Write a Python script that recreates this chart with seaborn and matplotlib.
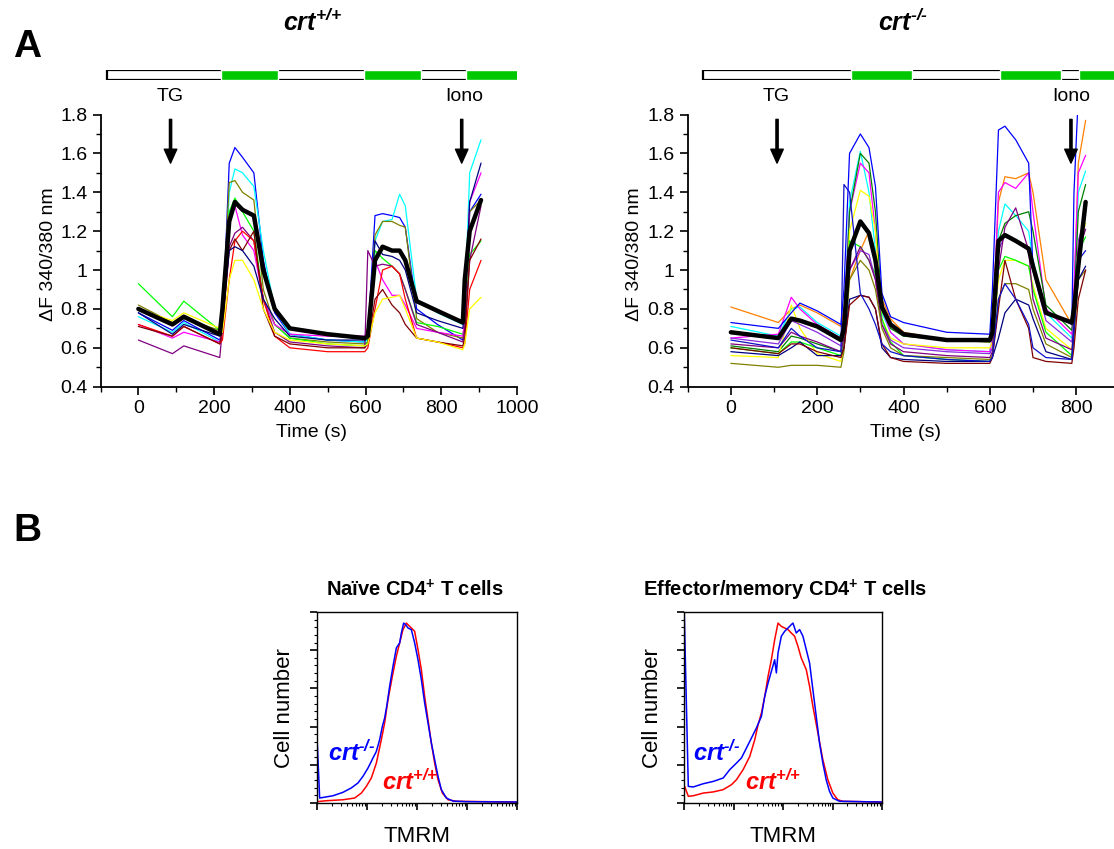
import matplotlib
matplotlib.use("Agg")
import matplotlib.pyplot as plt
from matplotlib.patches import Rectangle
from matplotlib.ticker import MultipleLocator, FuncFormatter, LogLocator, NullFormatter
import numpy as np
import seaborn as sns

# ---------------- Panel A, crt+/+ : 340/380 ratio traces ----------------
wt_time = [0, 90, 120, 215, 222, 240, 255, 275, 305, 330, 360, 400, 500,
           598, 606, 625, 645, 670, 690, 705, 735, 790, 857, 862, 875, 905]
wt_mean = [0.80, 0.72, 0.76, 0.67, 0.80, 1.25, 1.35, 1.31, 1.28, 1.00, 0.80, 0.70, 0.67,
           0.65, 0.66, 1.05, 1.12, 1.10, 1.10, 1.05, 0.84, 0.79, 0.73, 0.95, 1.20, 1.36]
wt_blue = [0.78, 0.69, 0.74, 0.64, 0.70, 1.55, 1.63, 1.58, 1.50, 1.05, 0.78, 0.67, 0.64,
           0.63, 0.66, 1.28, 1.29, 1.28, 1.27, 1.22, 0.80, 0.72, 0.64, 0.70, 1.30, 1.39]
wt_cyan = [0.76, 0.68, 0.73, 0.63, 0.68, 1.40, 1.52, 1.50, 1.43, 1.10, 0.80, 0.67, 0.64,
           0.63, 0.64, 1.15, 1.25, 1.26, 1.39, 1.33, 0.85, 0.78, 0.72, 0.80, 1.50, 1.67]
wt_olive = [0.82, 0.73, 0.75, 0.69, 0.75, 1.45, 1.46, 1.40, 1.36, 0.90, 0.72, 0.65, 0.63,
            0.62, 0.63, 1.18, 1.25, 1.25, 1.23, 1.22, 0.75, 0.68, 0.65, 0.72, 1.30, 1.36]
wt_green = [0.93, 0.76, 0.84, 0.69, 0.74, 1.30, 1.37, 1.30, 1.20, 0.85, 0.72, 0.65, 0.62,
            0.61, 0.63, 1.10, 1.06, 1.02, 0.98, 0.90, 0.73, 0.71, 0.67, 0.72, 1.08, 1.15]
wt_magenta = [0.72, 0.65, 0.68, 0.63, 0.70, 1.25, 1.33, 1.18, 1.10, 0.85, 0.72, 0.67, 0.66,
              0.66, 0.70, 1.05, 0.95, 0.87, 0.87, 0.82, 0.70, 0.68, 0.66, 0.75, 1.35, 1.50]
wt_purple = [0.64, 0.57, 0.61, 0.55, 0.70, 1.12, 1.19, 1.22, 1.15, 0.85, 0.68, 0.63, 0.61,
             0.60, 1.10, 1.02, 1.03, 1.02, 0.98, 0.90, 0.72, 0.68, 0.63, 0.70, 1.05, 1.33]
wt_red = [0.72, 0.66, 0.71, 0.62, 0.64, 0.95, 1.15, 1.20, 1.15, 0.85, 0.66, 0.60, 0.58,
          0.58, 0.60, 0.80, 1.00, 1.02, 0.98, 0.85, 0.65, 0.63, 0.60, 0.62, 0.90, 1.05]
wt_darkred = [0.71, 0.66, 0.71, 0.62, 0.70, 1.10, 1.16, 1.10, 1.20, 0.80, 0.66, 0.62, 0.60,
              0.60, 0.62, 0.85, 0.90, 0.82, 0.78, 0.72, 0.65, 0.63, 0.61, 0.65, 1.05, 1.16]
wt_navy = [0.78, 0.67, 0.72, 0.66, 0.75, 1.10, 1.12, 1.10, 1.02, 0.85, 0.75, 0.66, 0.64,
           0.64, 0.66, 1.15, 1.08, 1.07, 1.05, 1.00, 0.78, 0.74, 0.70, 0.80, 1.35, 1.55]
wt_yellow = [0.80, 0.74, 0.78, 0.70, 0.68, 0.95, 1.05, 1.05, 0.95, 0.80, 0.68, 0.64, 0.62,
             0.61, 0.62, 0.78, 0.85, 0.86, 0.87, 0.80, 0.65, 0.63, 0.59, 0.62, 0.80, 0.86]

# ---------------- Panel A, crt-/- ----------------
ko_time = [0, 110, 140, 160, 200, 255, 262, 275, 300, 320, 335, 350, 370, 400,
           500, 600, 606, 620, 635, 660, 690, 700, 730, 790, 795, 805, 822]
ko_mean = [0.68, 0.65, 0.75, 0.74, 0.71, 0.64, 0.70, 1.10, 1.25, 1.19, 1.05, 0.81, 0.72, 0.67,
           0.64, 0.64, 0.68, 1.15, 1.18, 1.15, 1.11, 1.02, 0.78, 0.73, 0.80, 1.02, 1.35]
ko_blue = [0.73, 0.70, 0.78, 0.83, 0.79, 0.72, 0.90, 1.60, 1.70, 1.63, 1.43, 0.88, 0.76, 0.73,
           0.68, 0.67, 0.90, 1.72, 1.74, 1.67, 1.55, 1.00, 0.79, 0.72, 1.40, 1.90, 1.90]
ko_orange = [0.81, 0.73, 0.80, 0.82, 0.78, 0.71, 0.80, 0.95, 1.10, 1.20, 1.10, 0.85, 0.75, 0.68,
             0.64, 0.63, 0.70, 1.35, 1.48, 1.47, 1.50, 1.40, 0.95, 0.72, 0.85, 1.55, 1.77]
ko_magenta = [0.65, 0.67, 0.86, 0.80, 0.72, 0.65, 0.75, 1.30, 1.55, 1.50, 1.20, 0.80, 0.68, 0.62,
              0.59, 0.58, 0.65, 1.40, 1.45, 1.42, 1.50, 1.30, 0.80, 0.67, 0.90, 1.50, 1.59]
ko_cyan = [0.71, 0.66, 0.80, 0.81, 0.73, 0.66, 0.75, 1.35, 1.61, 1.40, 1.10, 0.78, 0.68, 0.62,
           0.59, 0.58, 0.65, 1.20, 1.34, 1.28, 1.20, 1.05, 0.78, 0.65, 0.80, 1.40, 1.51]
ko_green = [0.61, 0.58, 0.66, 0.65, 0.62, 0.58, 0.65, 1.30, 1.60, 1.55, 1.30, 0.80, 0.70, 0.66,
            0.64, 0.63, 0.66, 1.15, 1.24, 1.28, 1.30, 1.20, 0.82, 0.69, 0.80, 1.30, 1.44]
ko_yellow = [0.56, 0.55, 0.82, 0.70, 0.57, 0.53, 0.60, 1.20, 1.41, 1.38, 1.20, 0.75, 0.65, 0.62,
             0.60, 0.60, 0.63, 0.95, 1.05, 1.05, 1.02, 0.92, 0.70, 0.59, 0.70, 1.15, 1.24]
ko_lime = [0.60, 0.57, 0.63, 0.63, 0.60, 0.56, 0.65, 1.15, 1.12, 1.05, 0.98, 0.75, 0.63, 0.56,
           0.54, 0.53, 0.56, 1.00, 1.07, 1.05, 1.02, 0.90, 0.68, 0.56, 0.70, 1.10, 1.17]
ko_violet = [0.65, 0.62, 0.74, 0.72, 0.68, 0.61, 0.68, 1.00, 1.10, 1.08, 0.95, 0.72, 0.64, 0.60,
             0.58, 0.57, 0.60, 1.10, 1.18, 1.15, 1.10, 1.00, 0.74, 0.63, 0.75, 1.15, 1.28]
ko_purple = [0.62, 0.60, 0.68, 0.66, 0.63, 0.58, 0.65, 1.00, 1.12, 1.05, 0.95, 0.72, 0.62, 0.58,
             0.56, 0.55, 0.58, 1.00, 1.22, 1.32, 1.10, 0.85, 0.65, 0.59, 0.70, 1.10, 1.21]
ko_olive = [0.52, 0.50, 0.51, 0.51, 0.51, 0.50, 0.58, 0.95, 1.05, 1.00, 0.90, 0.70, 0.60, 0.56,
            0.55, 0.54, 0.56, 0.85, 0.93, 0.93, 0.90, 0.80, 0.62, 0.55, 0.65, 0.95, 1.00]
ko_navy = [0.58, 0.56, 0.60, 0.63, 0.56, 0.56, 0.60, 0.85, 0.87, 0.86, 0.80, 0.60, 0.55, 0.54,
           0.53, 0.53, 0.55, 0.65, 0.78, 0.85, 0.82, 0.75, 0.58, 0.54, 0.70, 0.95, 1.02]
ko_darkred = [0.60, 0.57, 0.62, 0.62, 0.58, 0.55, 0.60, 0.82, 0.87, 0.86, 0.80, 0.62, 0.55, 0.53,
              0.52, 0.52, 0.55, 0.80, 1.05, 0.85, 0.70, 0.55, 0.53, 0.52, 0.60, 0.85, 1.00]
ko_fastblue = [0.64, 0.60, 0.70, 0.66, 0.60, 0.58, 1.44, 1.40, 0.88, 0.80, 0.72, 0.62, 0.58, 0.56,
               0.54, 0.53, 0.55, 0.85, 0.93, 0.85, 0.72, 0.60, 0.55, 0.54, 0.70, 1.05, 1.10]

# solution bar: overall extent and green (Ca2+) periods, in seconds
wt_bar = (-82, 1000)
wt_green_periods = [(218, 152), (595, 152), (866, 140)]
ko_bar = (-65, 950)
ko_green_periods = [(279, 141), (623, 142), (807, 150)]

# ---------------- Panel B, TMRM histograms (log10 intensity, % of max) ----------------
naive_ko_log = [0.007, 0.053, 0.32, 0.52, 0.687, 0.82, 0.92, 1.02, 1.12, 1.187, 1.253, 1.307,
                1.353, 1.40, 1.453, 1.52, 1.587, 1.653, 1.687, 1.733, 1.773, 1.82, 1.887,
                1.953, 2.02, 2.087, 2.153, 2.22, 2.287, 2.353, 2.42, 2.487, 2.587, 2.72,
                2.987, 4.0]
naive_ko_pct = [30.5, 2.6, 3.8, 5.6, 7.9, 10.5, 14.0, 18.3, 23.6, 27.0, 33.2, 40.1, 44.5,
                51.5, 61.1, 71.6, 81.2, 83.8, 89.0, 94.2, 93.4, 91.6, 90.8, 83.8, 75.0,
                64.6, 52.4, 41.9, 31.4, 22.7, 14.0, 7.0, 2.6, 1.0, 0.7, 0.5]
naive_wt_log = [0.0, 0.187, 0.52, 0.753, 0.887, 0.987, 1.087, 1.187, 1.287, 1.353, 1.42,
                1.507, 1.587, 1.653, 1.72, 1.787, 1.853, 1.953, 2.02, 2.087, 2.153, 2.22,
                2.287, 2.353, 2.42, 2.507, 2.62, 2.787, 4.0]
naive_wt_pct = [0.7, 1.2, 1.7, 2.6, 5.2, 8.7, 13.1, 20.9, 33.2, 41.9, 54.1, 66.3, 76.8,
                83.8, 90.8, 94.2, 92.5, 89.9, 80.3, 69.8, 55.8, 43.6, 31.4, 20.9, 12.2,
                5.2, 1.7, 0.9, 0.5]
effector_ko_log = [0.005, 0.087, 0.188, 0.389, 0.591, 0.792, 0.926, 1.06, 1.161, 1.262, 1.362,
                   1.463, 1.564, 1.631, 1.698, 1.765, 1.832, 1.866, 1.899, 1.966, 2.034,
                   2.101, 2.168, 2.201, 2.268, 2.336, 2.403, 2.47, 2.537, 2.604, 2.671,
                   2.738, 2.805, 2.872, 2.94, 3.007, 3.141, 3.993]
effector_ko_pct = [100.0, 8.7, 8.4, 10.1, 11.3, 13.1, 17.5, 20.9, 23.6, 28.8, 34.0, 39.3,
                   45.4, 55.8, 62.8, 68.9, 75.0, 68.1, 78.5, 87.3, 89.9, 91.6, 93.4, 94.2,
                   89.0, 90.8, 87.3, 80.3, 73.3, 59.3, 45.4, 31.4, 20.9, 12.2, 6.1, 2.6,
                   0.9, 0.5]
effector_wt_log = [0.013, 0.087, 0.188, 0.389, 0.591, 0.792, 0.96, 1.06, 1.195, 1.329, 1.43,
                   1.497, 1.564, 1.631, 1.698, 1.765, 1.832, 1.899, 1.966, 2.034, 2.101,
                   2.168, 2.235, 2.302, 2.369, 2.47, 2.537, 2.604, 2.705, 2.805, 2.906,
                   3.007, 3.107, 3.208, 3.993]
effector_wt_pct = [8.7, 3.5, 3.8, 5.2, 5.8, 7.0, 9.6, 12.2, 17.5, 24.4, 33.2, 41.0, 47.1,
                   55.8, 66.3, 75.0, 85.5, 94.2, 92.5, 91.6, 90.8, 89.0, 87.3, 82.0, 75.9,
                   69.8, 61.1, 50.6, 36.6, 22.7, 12.2, 5.2, 1.7, 0.9, 0.5]

sns.set_style("ticks")
plt.rcParams["font.family"] = ["Liberation Sans", "DejaVu Sans"]
plt.rcParams["mathtext.default"] = "regular"
plt.rcParams["text.color"] = "black"
plt.rcParams["axes.labelcolor"] = "black"

GREEN_BAR = "#00c800"
WT_SUP = "crt$^{{+}/{+}}$"
KO_SUP = "crt$^{\u2010/\u2010}$"

fig = plt.figure(figsize=(11.14, 8.49), dpi=100)


def fx(px):
    return px / 1114


def fy(py):
    return 1 - py / 849


def trace_axes(rect, xmax):
    ax = fig.add_axes(rect)
    ax.set_xlim(-100, xmax)
    ax.set_ylim(0.4, 1.8)
    sns.despine(ax=ax)
    ax.xaxis.set_major_locator(MultipleLocator(200))
    ax.xaxis.set_minor_locator(MultipleLocator(100))
    ax.yaxis.set_major_locator(MultipleLocator(0.2))
    ax.yaxis.set_minor_locator(MultipleLocator(0.1))
    ax.yaxis.set_major_formatter(FuncFormatter(lambda v, p: f"{v:g}"))
    ax.tick_params(which="major", direction="out", length=6, width=1.2,
                   labelsize=14, color="black", labelcolor="black")
    ax.tick_params(which="minor", direction="out", length=3.5, width=1, color="black")
    for s in ("left", "bottom"):
        ax.spines[s].set_linewidth(1.3)
        ax.spines[s].set_color("black")
    return ax


def draw_traces(ax, t, traces, mean):
    for color, vals in traces:
        sns.lineplot(x=t, y=vals, color=color, linewidth=0.9, ax=ax,
                     estimator=None, sort=False)
    sns.lineplot(x=t, y=mean, color="black", linewidth=3.2, ax=ax,
                 estimator=None, sort=False, zorder=5)
    ax.set_xlabel("")
    ax.set_ylabel("")


def draw_bar(rect, xmax, extent, periods):
    bx = fig.add_axes(rect)
    bx.set_xlim(-100, xmax)
    bx.set_ylim(0, 1)
    bx.axis("off")
    bx.add_patch(Rectangle((extent[0], 0), extent[1] - extent[0], 1, fill=False,
                           edgecolor="black", linewidth=1.6, zorder=1))
    bx.broken_barh(periods, (0, 1), facecolors=GREEN_BAR, zorder=2)


def arrow(ax, t, label, text_t):
    ax.annotate("", xy=(t, 1.55), xytext=(t, 1.775),
                arrowprops=dict(facecolor="black", edgecolor="black", width=1.6,
                                headwidth=9, headlength=10, shrink=0),
                annotation_clip=False)
    ax.text(text_t, 1.893, label, ha="center", va="center", fontsize=14, clip_on=False)


# ---- crt+/+ traces ----
ax1 = trace_axes([fx(100.5), fy(386.7), 416.5 / 1114, 272.2 / 849], 1000)
wt_traces = [("#0000ff", wt_blue), ("#00ffff", wt_cyan), ("#808000", wt_olive),
             ("#00ff00", wt_green), ("#ff00ff", wt_magenta), ("#800080", wt_purple),
             ("#ff0000", wt_red), ("#800000", wt_darkred), ("#000080", wt_navy),
             ("#ffff00", wt_yellow)]
draw_traces(ax1, wt_time, wt_traces, wt_mean)
arrow(ax1, 85, "TG", 85)
arrow(ax1, 854, "Iono", 860)
draw_bar([fx(100.5), fy(80), 416.5 / 1114, 10 / 849], 1000, wt_bar, wt_green_periods)

# ---- crt-/- traces ----
ax2 = trace_axes([fx(687.7), fy(386.7), 431.6 / 1114, 272.2 / 849], 900)
ko_traces = [("#ff8000", ko_orange), ("#00ffff", ko_cyan), ("#ff00ff", ko_magenta),
             ("#008000", ko_green), ("#ffff00", ko_yellow), ("#00ff00", ko_lime),
             ("#8a2be2", ko_violet), ("#800080", ko_purple), ("#808000", ko_olive),
             ("#000080", ko_navy), ("#800000", ko_darkred), ("#1010c8", ko_fastblue),
             ("#0000ff", ko_blue)]
draw_traces(ax2, ko_time, ko_traces, ko_mean)
arrow(ax2, 788, "Iono", 788)
arrow(ax2, 107, "TG", 106)
draw_bar([fx(687.7), fy(80), 431.6 / 1114, 10 / 849], 900, ko_bar, ko_green_periods)

# panel A labels
fig.text(fx(27), fy(47), "A", fontsize=28, fontweight="bold", ha="center", va="center")
fig.text(fx(313), fy(22), WT_SUP, fontsize=18, fontweight="bold", style="italic",
         ha="center", va="center")
fig.text(fx(903), fy(22), KO_SUP, fontsize=18, fontweight="bold", style="italic",
         ha="center", va="center")
for x in (48.5, 635):
    fig.text(fx(x), fy(254), "\u0394F 340/380 nm", rotation=90, fontsize=14,
             ha="center", va="center")
for x in (311, 905):
    fig.text(fx(x), fy(433), "Time (s)", fontsize=14, ha="center", va="center")

# ---- panel B histograms ----
fig.text(fx(27), fy(531), "B", fontsize=28, fontweight="bold", ha="center", va="center")


def hist_axes(left_px, width_px, title, title_x):
    ax = fig.add_axes([fx(left_px), fy(803), width_px / 1114, 191 / 849])
    ax.set_xscale("log")
    ax.set_xlim(1, 1e4)
    ax.set_ylim(0, 100)
    ax.yaxis.set_major_locator(MultipleLocator(20))
    ax.yaxis.set_minor_locator(MultipleLocator(4))
    ax.xaxis.set_major_locator(LogLocator(base=10, numticks=10))
    ax.xaxis.set_minor_locator(LogLocator(base=10, subs=np.arange(2, 10), numticks=50))
    ax.xaxis.set_major_formatter(NullFormatter())
    ax.xaxis.set_minor_formatter(NullFormatter())
    ax.yaxis.set_major_formatter(NullFormatter())
    ax.tick_params(which="major", direction="out", length=5, width=1.2, color="black")
    ax.tick_params(which="minor", direction="out", length=2.5, width=0.8, color="black")
    for s in ax.spines.values():
        s.set_linewidth(1.0)
        s.set_color("black")
    fig.text(fx(title_x), fy(590), title, fontsize=14.5, fontweight="bold",
             ha="center", va="center")
    fig.text(fx(left_px - 32), fy(708), "Cell number", rotation=90, fontsize=16,
             ha="center", va="center")
    fig.text(fx(left_px + width_px / 2), fy(836), "TMRM", fontsize=16,
             ha="center", va="center")
    return ax


def draw_hist(ax, ko_log, ko_pct, wt_log, wt_pct, ko_xy, wt_xy):
    sns.lineplot(x=10 ** np.array(wt_log), y=wt_pct, color="#ff0000", linewidth=1.1,
                 ax=ax, estimator=None, sort=False)
    sns.lineplot(x=10 ** np.array(ko_log), y=ko_pct, color="#0000ff", linewidth=1.1,
                 ax=ax, estimator=None, sort=False)
    ax.set_xlabel("")
    ax.set_ylabel("")
    ax.text(ko_xy[0], ko_xy[1], KO_SUP, transform=ax.transAxes, color="#0000ff",
            fontsize=17, fontweight="bold", style="italic", ha="left", va="center")
    ax.text(wt_xy[0], wt_xy[1], WT_SUP, transform=ax.transAxes, color="#ff0000",
            fontsize=17, fontweight="bold", style="italic", ha="left", va="center")


h1 = hist_axes(317, 200, "Na\u00efve CD4$^{+}$ T cells", 415)
draw_hist(h1, naive_ko_log, naive_ko_pct, naive_wt_log, naive_wt_pct,
          (0.055, 0.26), (0.325, 0.11))
h2 = hist_axes(684, 198, "Effector/memory CD4$^{+}$ T cells", 785)
draw_hist(h2, effector_ko_log, effector_ko_pct, effector_wt_log, effector_wt_pct,
          (0.045, 0.26), (0.31, 0.11))

fig.savefig("out.png", dpi=100)
